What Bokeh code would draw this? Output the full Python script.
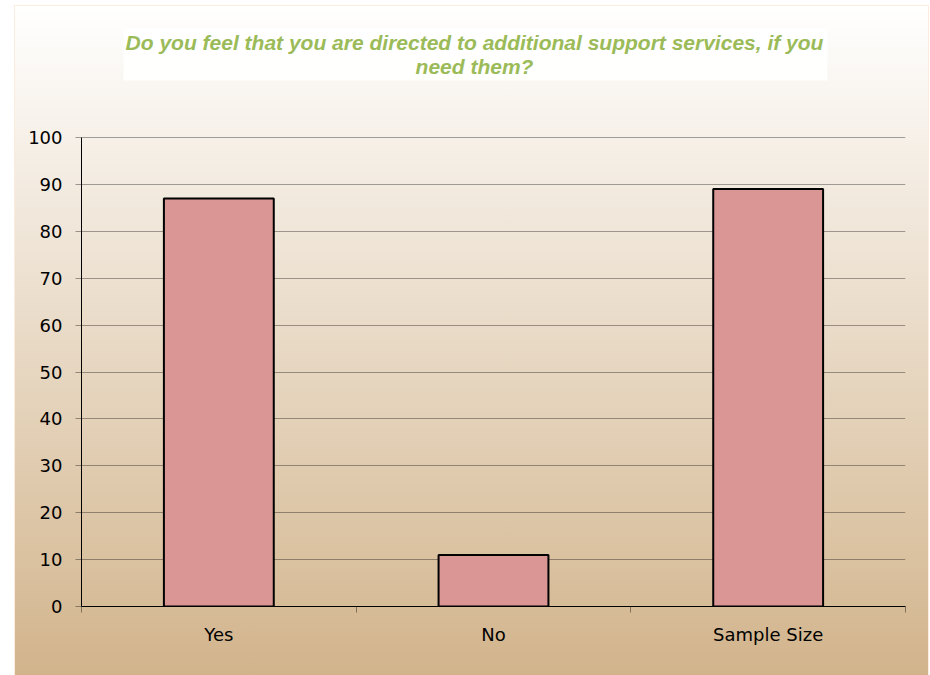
from bokeh.plotting import figure
from bokeh.models import Range1d, FixedTicker, Label, BoxAnnotation
from bokeh.embed import file_html
from bokeh.resources import INLINE

categories = ["Yes", "No", "Sample Size"]
values = [87, 11, 89]
y_ticks = list(range(0, 101, 10))
title_lines = ["Do you feel that you are directed to additional support services, if you",
               "need them?"]

xs = [i + 0.5 for i in range(len(categories))]
bounds = list(range(len(categories) + 1))

# layout (pixels): the frame runs from the top of the canvas to the x axis,
# the value axis covers 0..100 over the lower 469 px
FRAME_H = 600
VALUE_H = 469
y_top = 100 * FRAME_H / VALUE_H

p = figure(width=913, height=669, output_backend="svg", toolbar_location=None,
           x_range=Range1d(0, len(categories)), y_range=Range1d(0, y_top),
           min_border_left=66, min_border_right=23, min_border_top=0, min_border_bottom=69,
           styles={"margin-left": "15px", "margin-top": "6px",
                   "background": "linear-gradient(to bottom, #FFFFFF 0%, #D2B48C 100%)",
                   "outline": "1px solid #FCECDD"})
p.border_fill_alpha = 0
p.background_fill_alpha = 0
p.outline_line_color = None

p.vbar(x=xs, top=values, width=0.4, fill_color="#D99694",
       line_color="#000000", line_width=2)

# x axis
p.xaxis.ticker = FixedTicker(ticks=xs, minor_ticks=bounds)
p.xaxis.major_label_overrides = {x: c for x, c in zip(xs, categories)}
p.xaxis.major_tick_line_color = None
p.xaxis.major_tick_in = 0
p.xaxis.major_tick_out = 0
p.xaxis.minor_tick_in = 0
p.xaxis.minor_tick_out = 6
p.xaxis.minor_tick_line_color = "#000000"
p.xaxis.minor_tick_line_alpha = 0.4
p.xaxis.axis_line_color = "#000000"
p.xaxis.major_label_standoff = 11
p.xaxis.major_label_text_font = "DejaVu Sans"
p.xaxis.major_label_text_font_size = "18px"
p.xaxis.major_label_text_color = "#000000"

# y axis
p.yaxis.ticker = FixedTicker(ticks=y_ticks)
p.yaxis.bounds = (0, 100)
p.yaxis.major_tick_in = 0
p.yaxis.major_tick_out = 6
p.yaxis.major_tick_line_color = "#000000"
p.yaxis.major_tick_line_alpha = 0.37
p.yaxis.minor_tick_line_color = None
p.yaxis.axis_line_color = "#000000"
p.yaxis.major_label_standoff = 13
p.yaxis.major_label_text_font = "DejaVu Sans"
p.yaxis.major_label_text_font_size = "18px"
p.yaxis.major_label_text_color = "#000000"

p.xgrid.grid_line_color = None
p.ygrid.ticker = FixedTicker(ticks=y_ticks)
p.ygrid.bounds = (0, len(categories))
p.ygrid.grid_line_color = "#000000"
p.ygrid.grid_line_alpha = 0.35

# title: white box + two centred lines (screen units, from the frame's bottom-left)
box = BoxAnnotation(left=42, right=746, top=578, bottom=526,
                    left_units="screen", right_units="screen",
                    top_units="screen", bottom_units="screen",
                    fill_color="#FFFFFF", fill_alpha=0.9, line_color=None)
p.add_layout(box)
for i, line in enumerate(title_lines):
    p.add_layout(Label(x=393, y=564 - 24 * i, x_units="screen", y_units="screen",
                       text=line, text_align="center", text_baseline="middle",
                       text_font="Liberation Sans", text_font_style="bold italic",
                       text_font_size="21px", text_color="#9BBB59"))

open("out.html", "w").write(file_html(p, INLINE))
